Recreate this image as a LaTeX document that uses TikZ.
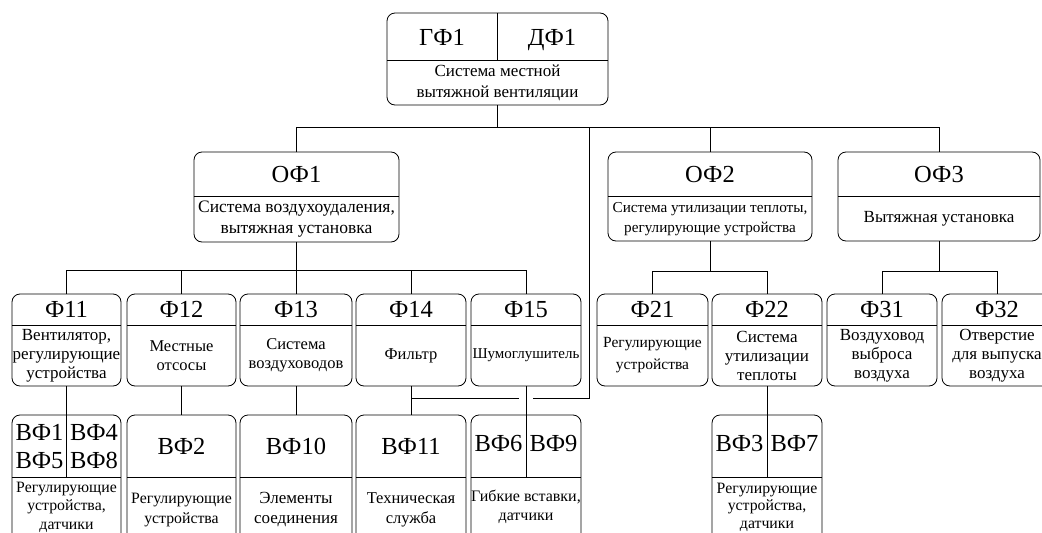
\documentclass[tikz,border=0pt]{standalone}
\usepackage{fontspec}
\setmainfont{Liberation Serif}
\usepackage{tikz}
\usetikzlibrary{positioning, calc}

\tikzset{
  fbox/.style={draw, rounded corners=8pt, line width=0.8pt, inner sep=0pt, outer sep=0pt, anchor=north west},
  title/.style={font=\fontsize{24.5}{26}\selectfont, inner sep=0pt, text height=17pt, text depth=5pt},
  desc/.style={font=\fontsize{16.5}{19.5}\selectfont, align=center, inner sep=0pt},
  link/.style={line width=0.8pt}
}

\begin{document}
\begin{tikzpicture}[x=1pt, y=-1pt]
  \useasboundingbox (0,0) rectangle (1042,533);

  % levels of the dividers and buses
  \coordinate (splitGF) at (0,60);
  \coordinate (splitOF) at (0,196);
  \coordinate (splitF) at (0,325);
  \coordinate (splitVF) at (0,477);
  \coordinate (bus0) at (0,127);
  \coordinate (bus1) at (0,270);

  % Top function
  \node[fbox, minimum width=221, minimum height=92] (GF) at (387,13) {};
  \draw[link] (GF.west |- splitGF) -- (GF.east |- splitGF);
  \draw[link] (GF.north) -- (GF.north |- splitGF);
  \node[title] (GF-a) at (442,39) {ГФ1};
  \node[title] (GF-b) at (552,39) {ДФ1};
  \node[desc, font=\fontsize{17}{21}\selectfont] (GF-d) at (497.5,83) {Система местной\\вытяжной вентиляции};

  % Main functions
  \node[fbox, minimum width=205, minimum height=90] (OF1) at (194,152) {};
  \draw[link] (OF1.west |- splitOF) -- (OF1.east |- splitOF);
  \node[title] (OF1-t) at (296.5,176) {ОФ1};
  \node[desc, font=\fontsize{17.5}{21}\selectfont] (OF1-d) at (296.5,219) {Система воздухоудаления,\\вытяжная установка};

  \node[fbox, minimum width=204, minimum height=89] (OF2) at (608,152) {};
  \draw[link] (OF2.west |- splitOF) -- (OF2.east |- splitOF);
  \node[title] (OF2-t) at (710,176) {ОФ2};
  \node[desc, font=\fontsize{15.2}{20}\selectfont] (OF2-d) at (710,219) {Система утилизации теплоты,\\регулирующие устройства};

  \node[fbox, minimum width=202, minimum height=89] (OF3) at (838,152) {};
  \draw[link] (OF3.west |- splitOF) -- (OF3.east |- splitOF);
  \node[title] (OF3-t) at (939,176) {ОФ3};
  \node[desc, font=\fontsize{17}{20}\selectfont] (OF3-d) at (939,219) {Вытяжная установка};

  % Functions
  \node[fbox, minimum width=109, minimum height=92] (F11) at (12,294) {};
  \node[title] (F11-t) at (66.5,311) {Ф11};
  \node[desc, font=\fontsize{17}{19}\selectfont] (F11-d) at (66.5,355.5) {Вентилятор,\\регулирующие\\устройства};

  \node[fbox, minimum width=109, minimum height=92] (F12) at (127,294) {};
  \node[title] (F12-t) at (181.5,311) {Ф12};
  \node[desc] (F12-d) at (181.5,355.5) {Местные\\отсосы};

  \node[fbox, minimum width=112, minimum height=92] (F13) at (240,294) {};
  \node[title] (F13-t) at (296,311) {Ф13};
  \node[desc] (F13-d) at (296,355.5) {Система\\воздуховодов};

  \node[fbox, minimum width=110, minimum height=92] (F14) at (356,294) {};
  \node[title] (F14-t) at (411,311) {Ф14};
  \node[desc] (F14-d) at (411,355.5) {Фильтр};

  \node[fbox, minimum width=110, minimum height=92] (F15) at (471,294) {};
  \node[title] (F15-t) at (526,311) {Ф15};
  \node[desc, font=\fontsize{15}{19}\selectfont] (F15-d) at (526,355.5) {Шумоглушитель};

  \node[fbox, minimum width=111, minimum height=92] (F21) at (597,294) {};
  \node[title] (F21-t) at (652.5,311) {Ф21};
  \node[desc, font=\fontsize{15.5}{22}\selectfont] (F21-d) at (652.5,355.5) {Регулирующие\\устройства};

  \node[fbox, minimum width=110, minimum height=92] (F22) at (712,294) {};
  \node[title] (F22-t) at (767,311) {Ф22};
  \node[desc, font=\fontsize{17}{19}\selectfont] (F22-d) at (767,355.5) {Система\\утилизации\\теплоты};

  \node[fbox, minimum width=110, minimum height=92] (F31) at (827,294) {};
  \node[title] (F31-t) at (882,311) {Ф31};
  \node[desc, font=\fontsize{17}{19}\selectfont] (F31-d) at (882,355.5) {Воздуховод\\выброса\\воздуха};

  \node[fbox, minimum width=110, minimum height=92] (F32) at (942,294) {};
  \node[title] (F32-t) at (997,311) {Ф32};
  \node[desc, font=\fontsize{17}{19}\selectfont] (F32-d) at (997,355.5) {Отверстие\\для выпуска\\воздуха};

  \foreach \f in {F11,F12,F13,F14,F15,F21,F22,F31,F32}
    \draw[link] (\f.west |- splitF) -- (\f.east |- splitF);

  % Elementary functions
  \node[fbox, minimum width=109, minimum height=130] (VF1) at (12,415) {};
  \node[title] (VF1-a) at (39.5,434) {ВФ1};
  \node[title] (VF1-b) at (94,434) {ВФ4};
  \node[title] (VF1-c) at (39.5,462) {ВФ5};
  \node[title] (VF1-e) at (94,462) {ВФ8};
  \node[desc, font=\fontsize{15.8}{18.5}\selectfont] (VF1-d) at (66.5,507) {Регулирующие\\устройства,\\датчики};

  \node[fbox, minimum width=109, minimum height=130] (VF2) at (127,415) {};
  \node[title] (VF2-t) at (181.5,448) {ВФ2};
  \node[desc, font=\fontsize{15.8}{20}\selectfont] (VF2-d) at (181.5,510) {Регулирующие\\устройства};

  \node[fbox, minimum width=112, minimum height=130] (VF10) at (240,415) {};
  \node[title] (VF10-t) at (296,448) {ВФ10};
  \node[desc, font=\fontsize{17}{20}\selectfont] (VF10-d) at (296,510) {Элементы\\соединения};

  \node[fbox, minimum width=110, minimum height=130] (VF11) at (356,415) {};
  \node[title] (VF11-t) at (411,448) {ВФ11};
  \node[desc] (VF11-d) at (411,510) {Техническая\\служба};

  \node[fbox, minimum width=110, minimum height=130] (VF6) at (471,415) {};
  \node[title] (VF6-a) at (498.5,445) {ВФ6};
  \node[title] (VF6-b) at (553.5,445) {ВФ9};
  \node[desc, font=\fontsize{16}{19}\selectfont] (VF6-d) at (526,507) {Гибкие вставки,\\датчики};

  \node[fbox, minimum width=110, minimum height=130] (VF3) at (712,415) {};
  \node[title] (VF3-a) at (739.5,445) {ВФ3};
  \node[title] (VF3-b) at (794.5,445) {ВФ7};
  \node[desc, font=\fontsize{15.8}{17.5}\selectfont] (VF3-d) at (767,507) {Регулирующие\\устройства,\\датчики};

  \foreach \v in {VF1,VF2,VF10,VF11,VF6,VF3}
    \draw[link] (\v.west |- splitVF) -- (\v.east |- splitVF);

  % Links from the top function
  \draw[link] (GF.south) -- (GF.south |- bus0);
  \draw[link] (OF1.north) -- (OF1.north |- bus0) -- (OF3.north |- bus0) -- (OF3.north);
  \draw[link] (OF2.north) -- (OF2.north |- bus0);

  \coordinate (tap) at (589,127);
  \coordinate (tapend) at (589,398);
  \coordinate (gapR) at (533,398);
  \coordinate (gapL) at (519,398);
  \draw[link] (tap) -- (tapend) -- (gapR);
  \draw[link] (gapL) -- (F14.south |- tapend);

  % Links from OF1
  \draw[link] (OF1.south) -- (OF1.south |- bus1);
  \draw[link] (F11.north) -- (F11.north |- bus1) -- (F15.north |- bus1) -- (F15.north);
  \draw[link] (F12.north) -- (F12.north |- bus1);
  \draw[link] (F13.north) -- (F13.north |- bus1);
  \draw[link] (F14.north) -- (F14.north |- bus1);

  % Links from OF2 and OF3
  \coordinate (bus2) at (0,271);
  \draw[link] (OF2.south) -- (OF2.south |- bus2);
  \draw[link] (F21.north) -- (F21.north |- bus2) -- (F22.north |- bus2) -- (F22.north);
  \draw[link] (OF3.south) -- (OF3.south |- bus2);
  \draw[link] (F31.north) -- (F31.north |- bus2) -- (F32.north |- bus2) -- (F32.north);

  % Links to elementary functions
  \draw[link] (F11.south) -- (F11.south |- splitVF);
  \draw[link] (F12.south) -- (VF2.north);
  \draw[link] (F13.south) -- (VF10.north);
  \draw[link] (F14.south) -- (VF11.north);
  \draw[link] (F15.south) -- (F15.south |- splitVF);
  \draw[link] (F22.south) -- (F22.south |- splitVF);
\end{tikzpicture}
\end{document}
